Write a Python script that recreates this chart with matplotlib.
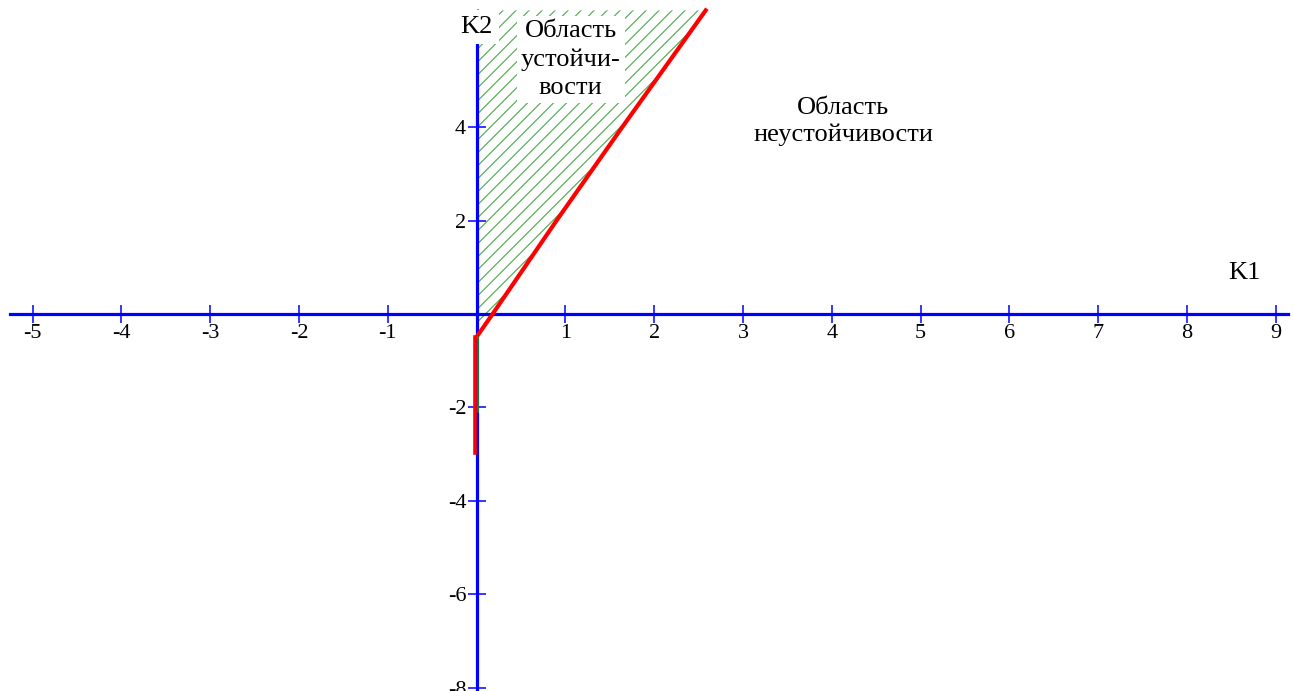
import numpy as np
import matplotlib
matplotlib.use('Agg')
import matplotlib.pyplot as plt
from matplotlib.patches import Polygon
from matplotlib.collections import LineCollection
from matplotlib.transforms import offset_copy

plt.rcParams['font.family'] = ['Liberation Serif', 'DejaVu Serif']
plt.rcParams['axes.unicode_minus'] = False

# stability boundary K2(K1) in the first quadrant
k1_border = [0.0, 0.18, 0.9, 1.64, 2.58]
k2_border = [-0.49, 0.0, 2.0, 4.0, 6.5]
# boundary pieces lying on the K2 axis
k2_axis_red = [-0.49, -2.97]
k2_axis_green = [-0.49, -2.1]
k2_top = 6.5

x_ticks = [-5, -4, -3, -2, -1, 1, 2, 3, 4, 5, 6, 7, 8, 9]
y_ticks = [-8, -6, -4, -2, 2, 4, 6]

xlim = (-5.368, 9.206)
ylim = (-8.071, 6.722)

fig = plt.figure(figsize=(12.94, 6.91), dpi=100)
ax = fig.add_axes([0, 0, 1, 1])
ax.set_xlim(*xlim)
ax.set_ylim(*ylim)

# axes through the origin
for side in ['top', 'right']:
    ax.spines[side].set_visible(False)
ax.spines['left'].set_position(('data', 0))
ax.spines['bottom'].set_position(('data', 0))
ax.spines['bottom'].set_bounds(-5.255, 9.137)
ax.spines['left'].set_bounds(ylim[0], 6.0)
for side in ['left', 'bottom']:
    ax.spines[side].set_color('#0000ff')
    ax.spines[side].set_linewidth(2.3)
ax.set_xticks(x_ticks)
ax.set_yticks(y_ticks)
ax.tick_params(direction='inout', length=13, width=1.1, color='#0000ff',
               labelsize=16, pad=1)

# stable region (between the K2 axis and the red boundary)
region = Polygon([(0, k2_border[0]), (0, k2_top)] + list(zip(k1_border, k2_border))[::-1],
                 closed=True, facecolor='none', edgecolor='none')
ax.add_patch(region)

# hatch: 45 degree lines on screen
px_x = 1294 / (xlim[1] - xlim[0])
px_y = 691 / (ylim[1] - ylim[0])
m = px_x / px_y
step = 13 / px_x
segs = []
for c in np.arange(-4, 3, step):
    segs.append([(c + (-1) / m, -1), (c + 7 / m, 7)])
hatch = LineCollection(segs, colors='#4aa84a', linewidths=0.8, zorder=1)
hatch.set_clip_path(region)
ax.add_collection(hatch)

# green edge along the K2 axis
ax.plot([0, 0], [k2_border[0], k2_top], color='#1e8c1e', lw=1.2, zorder=2,
        transform=offset_copy(ax.transData, fig=fig, x=1.5, y=0, units='dots'))

# red boundary
ax.plot(k1_border, k2_border, color='#ff0000', lw=3.0, zorder=4)
ax.plot([0, 0], k2_axis_red, color='#ff0000', lw=2.6, zorder=4,
        transform=offset_copy(ax.transData, fig=fig, x=-1.5, y=0, units='dots'))
ax.plot([0, 0], k2_axis_green, color='#1e8c1e', lw=1.2, zorder=5,
        transform=offset_copy(ax.transData, fig=fig, x=1.0, y=0, units='dots'))

ax.text(0.0, 6.14, 'K2', fontsize=19, ha='center', va='center', zorder=6,
        bbox=dict(boxstyle='square,pad=0.22', fc='white', ec='none'))
ax.text(1.06, 5.45, 'Область\nустойчи-\nвости', fontsize=19, ha='center',
        va='center', linespacing=1.38, zorder=6,
        bbox=dict(boxstyle='square,pad=0.15', fc='white', ec='none'))
ax.text(4.13, 4.12, 'Область\nнеустойчивости', fontsize=19, ha='center',
        va='center', linespacing=1.3)
ax.text(8.65, 0.88, 'K1', fontsize=19, ha='center', va='center')

fig.savefig('out.png', dpi=100)
